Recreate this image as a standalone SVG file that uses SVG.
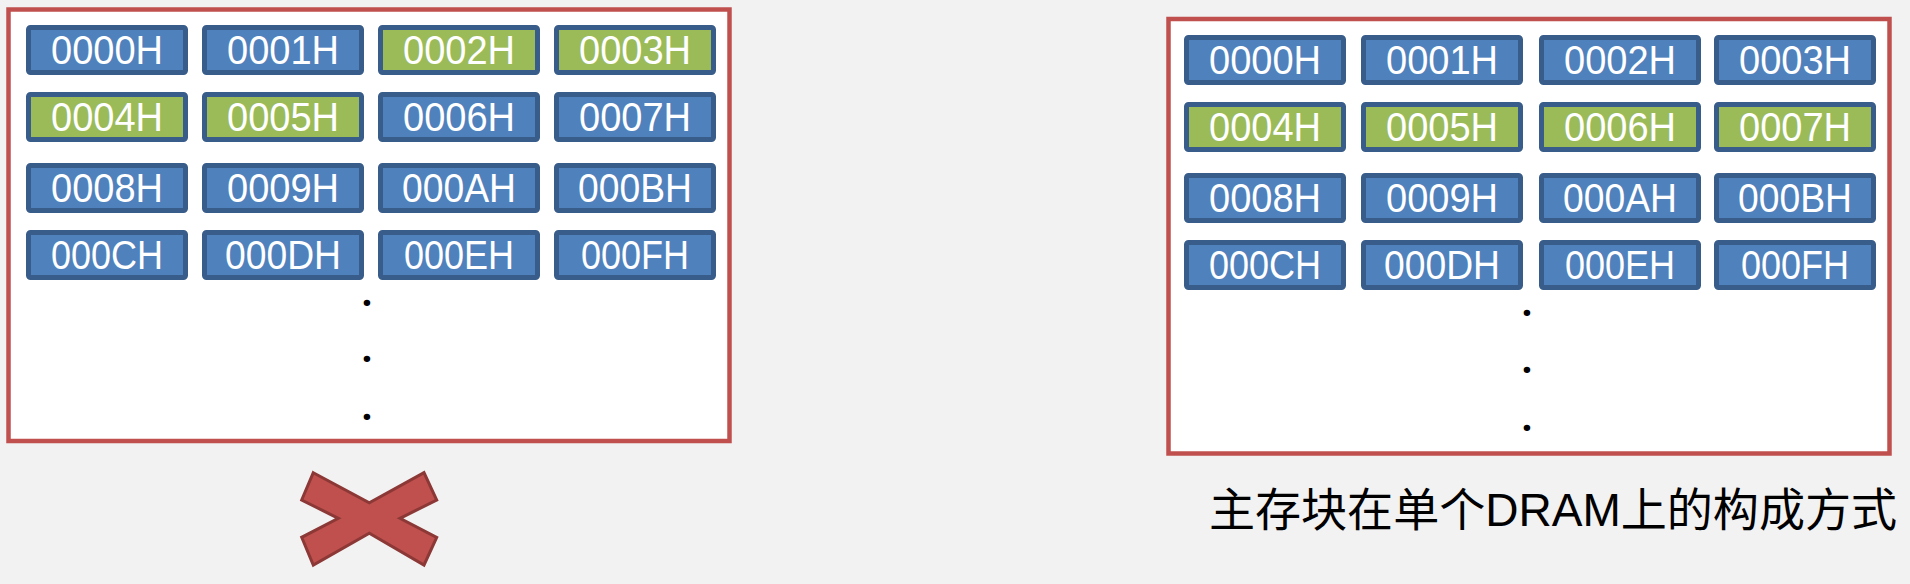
<svg xmlns="http://www.w3.org/2000/svg" width="1910" height="584" viewBox="0 0 1910 584">
<style>
.bg{fill:#f2f2f2}
.panel{fill:#ffffff;stroke:#c0504d;stroke-width:4.5}
.cell rect{stroke:#385d8a;stroke-width:5}
.blue rect{fill:#4f81bd}
.green rect{fill:#9bbb59}
.cell text{font-family:"Liberation Sans",Arial,sans-serif;font-size:40px;fill:#ffffff;text-anchor:middle}
.dot{font-family:"Open Sans","Liberation Sans",sans-serif;font-size:38px;font-weight:bold;fill:#000000;text-anchor:middle}
.cap{font-family:"Liberation Sans","Noto Sans CJK SC",sans-serif;font-size:46px;fill:#000000}
.cross{fill:#c0504d;stroke:#8c3836;stroke-width:3;stroke-linejoin:miter}
</style>
<rect class="bg" x="0" y="0" width="1910" height="584"/>

<g id="left-panel">
<rect class="panel" x="8.5" y="9.5" width="721" height="431.5"/>
</g>
<g id="L0000H" class="cell blue"><rect x="28.5" y="27.5" width="157" height="45" rx="2"/><text x="107" y="64" textLength="112" lengthAdjust="spacingAndGlyphs">0000H</text></g>
<g id="L0001H" class="cell blue"><rect x="204.5" y="27.5" width="157" height="45" rx="2"/><text x="283" y="64" textLength="112" lengthAdjust="spacingAndGlyphs">0001H</text></g>
<g id="L0002H" class="cell green"><rect x="380.5" y="27.5" width="157" height="45" rx="2"/><text x="459" y="64" textLength="112" lengthAdjust="spacingAndGlyphs">0002H</text></g>
<g id="L0003H" class="cell green"><rect x="556.5" y="27.5" width="157" height="45" rx="2"/><text x="635" y="64" textLength="112" lengthAdjust="spacingAndGlyphs">0003H</text></g>
<g id="L0004H" class="cell green"><rect x="28.5" y="94.5" width="157" height="45" rx="2"/><text x="107" y="131" textLength="112" lengthAdjust="spacingAndGlyphs">0004H</text></g>
<g id="L0005H" class="cell green"><rect x="204.5" y="94.5" width="157" height="45" rx="2"/><text x="283" y="131" textLength="112" lengthAdjust="spacingAndGlyphs">0005H</text></g>
<g id="L0006H" class="cell blue"><rect x="380.5" y="94.5" width="157" height="45" rx="2"/><text x="459" y="131" textLength="112" lengthAdjust="spacingAndGlyphs">0006H</text></g>
<g id="L0007H" class="cell blue"><rect x="556.5" y="94.5" width="157" height="45" rx="2"/><text x="635" y="131" textLength="112" lengthAdjust="spacingAndGlyphs">0007H</text></g>
<g id="L0008H" class="cell blue"><rect x="28.5" y="165.5" width="157" height="45" rx="2"/><text x="107" y="202" textLength="112" lengthAdjust="spacingAndGlyphs">0008H</text></g>
<g id="L0009H" class="cell blue"><rect x="204.5" y="165.5" width="157" height="45" rx="2"/><text x="283" y="202" textLength="112" lengthAdjust="spacingAndGlyphs">0009H</text></g>
<g id="L000AH" class="cell blue"><rect x="380.5" y="165.5" width="157" height="45" rx="2"/><text x="459" y="202" textLength="114" lengthAdjust="spacingAndGlyphs">000AH</text></g>
<g id="L000BH" class="cell blue"><rect x="556.5" y="165.5" width="157" height="45" rx="2"/><text x="635" y="202" textLength="114" lengthAdjust="spacingAndGlyphs">000BH</text></g>
<g id="L000CH" class="cell blue"><rect x="28.5" y="232.5" width="157" height="45" rx="2"/><text x="107" y="269" textLength="112" lengthAdjust="spacingAndGlyphs">000CH</text></g>
<g id="L000DH" class="cell blue"><rect x="204.5" y="232.5" width="157" height="45" rx="2"/><text x="283" y="269" textLength="116" lengthAdjust="spacingAndGlyphs">000DH</text></g>
<g id="L000EH" class="cell blue"><rect x="380.5" y="232.5" width="157" height="45" rx="2"/><text x="459" y="269" textLength="110" lengthAdjust="spacingAndGlyphs">000EH</text></g>
<g id="L000FH" class="cell blue"><rect x="556.5" y="232.5" width="157" height="45" rx="2"/><text x="635" y="269" textLength="108" lengthAdjust="spacingAndGlyphs">000FH</text></g>
<g id="left-dots">
<text class="dot" x="367" y="306">.</text>
<text class="dot" x="367" y="362">.</text>
<text class="dot" x="367" y="420">.</text>
</g>
<g id="cross-mark">
<polygon class="cross" points="313.3,472.7 369.3,502.7 424,472.7 436.7,500 400,518.3 436.7,537.3 424,565 369.3,533.3 313.3,565 301.7,537.3 338.3,518.3 301.7,500"/>
</g>

<g id="right-panel">
<rect class="panel" x="1168.5" y="19" width="721" height="434.5"/>
</g>
<g id="R0000H" class="cell blue"><rect x="1186.5" y="37.5" width="157" height="45" rx="2"/><text x="1265" y="74" textLength="112" lengthAdjust="spacingAndGlyphs">0000H</text></g>
<g id="R0001H" class="cell blue"><rect x="1363.5" y="37.5" width="157" height="45" rx="2"/><text x="1442" y="74" textLength="112" lengthAdjust="spacingAndGlyphs">0001H</text></g>
<g id="R0002H" class="cell blue"><rect x="1541.5" y="37.5" width="157" height="45" rx="2"/><text x="1620" y="74" textLength="112" lengthAdjust="spacingAndGlyphs">0002H</text></g>
<g id="R0003H" class="cell blue"><rect x="1716.5" y="37.5" width="157" height="45" rx="2"/><text x="1795" y="74" textLength="112" lengthAdjust="spacingAndGlyphs">0003H</text></g>
<g id="R0004H" class="cell green"><rect x="1186.5" y="104.5" width="157" height="45" rx="2"/><text x="1265" y="141" textLength="112" lengthAdjust="spacingAndGlyphs">0004H</text></g>
<g id="R0005H" class="cell green"><rect x="1363.5" y="104.5" width="157" height="45" rx="2"/><text x="1442" y="141" textLength="112" lengthAdjust="spacingAndGlyphs">0005H</text></g>
<g id="R0006H" class="cell green"><rect x="1541.5" y="104.5" width="157" height="45" rx="2"/><text x="1620" y="141" textLength="112" lengthAdjust="spacingAndGlyphs">0006H</text></g>
<g id="R0007H" class="cell green"><rect x="1716.5" y="104.5" width="157" height="45" rx="2"/><text x="1795" y="141" textLength="112" lengthAdjust="spacingAndGlyphs">0007H</text></g>
<g id="R0008H" class="cell blue"><rect x="1186.5" y="175.5" width="157" height="45" rx="2"/><text x="1265" y="212" textLength="112" lengthAdjust="spacingAndGlyphs">0008H</text></g>
<g id="R0009H" class="cell blue"><rect x="1363.5" y="175.5" width="157" height="45" rx="2"/><text x="1442" y="212" textLength="112" lengthAdjust="spacingAndGlyphs">0009H</text></g>
<g id="R000AH" class="cell blue"><rect x="1541.5" y="175.5" width="157" height="45" rx="2"/><text x="1620" y="212" textLength="114" lengthAdjust="spacingAndGlyphs">000AH</text></g>
<g id="R000BH" class="cell blue"><rect x="1716.5" y="175.5" width="157" height="45" rx="2"/><text x="1795" y="212" textLength="114" lengthAdjust="spacingAndGlyphs">000BH</text></g>
<g id="R000CH" class="cell blue"><rect x="1186.5" y="242.5" width="157" height="45" rx="2"/><text x="1265" y="279" textLength="112" lengthAdjust="spacingAndGlyphs">000CH</text></g>
<g id="R000DH" class="cell blue"><rect x="1363.5" y="242.5" width="157" height="45" rx="2"/><text x="1442" y="279" textLength="116" lengthAdjust="spacingAndGlyphs">000DH</text></g>
<g id="R000EH" class="cell blue"><rect x="1541.5" y="242.5" width="157" height="45" rx="2"/><text x="1620" y="279" textLength="110" lengthAdjust="spacingAndGlyphs">000EH</text></g>
<g id="R000FH" class="cell blue"><rect x="1716.5" y="242.5" width="157" height="45" rx="2"/><text x="1795" y="279" textLength="108" lengthAdjust="spacingAndGlyphs">000FH</text></g>
<g id="right-dots">
<text class="dot" x="1527" y="316">.</text>
<text class="dot" x="1527" y="373">.</text>
<text class="dot" x="1527" y="431">.</text>
</g>
<g id="caption">
<text class="cap" x="1209" y="526" textLength="688" lengthAdjust="spacingAndGlyphs">主存块在单个DRAM上的构成方式</text>
</g>
<g id="connectors"/>
</svg>
